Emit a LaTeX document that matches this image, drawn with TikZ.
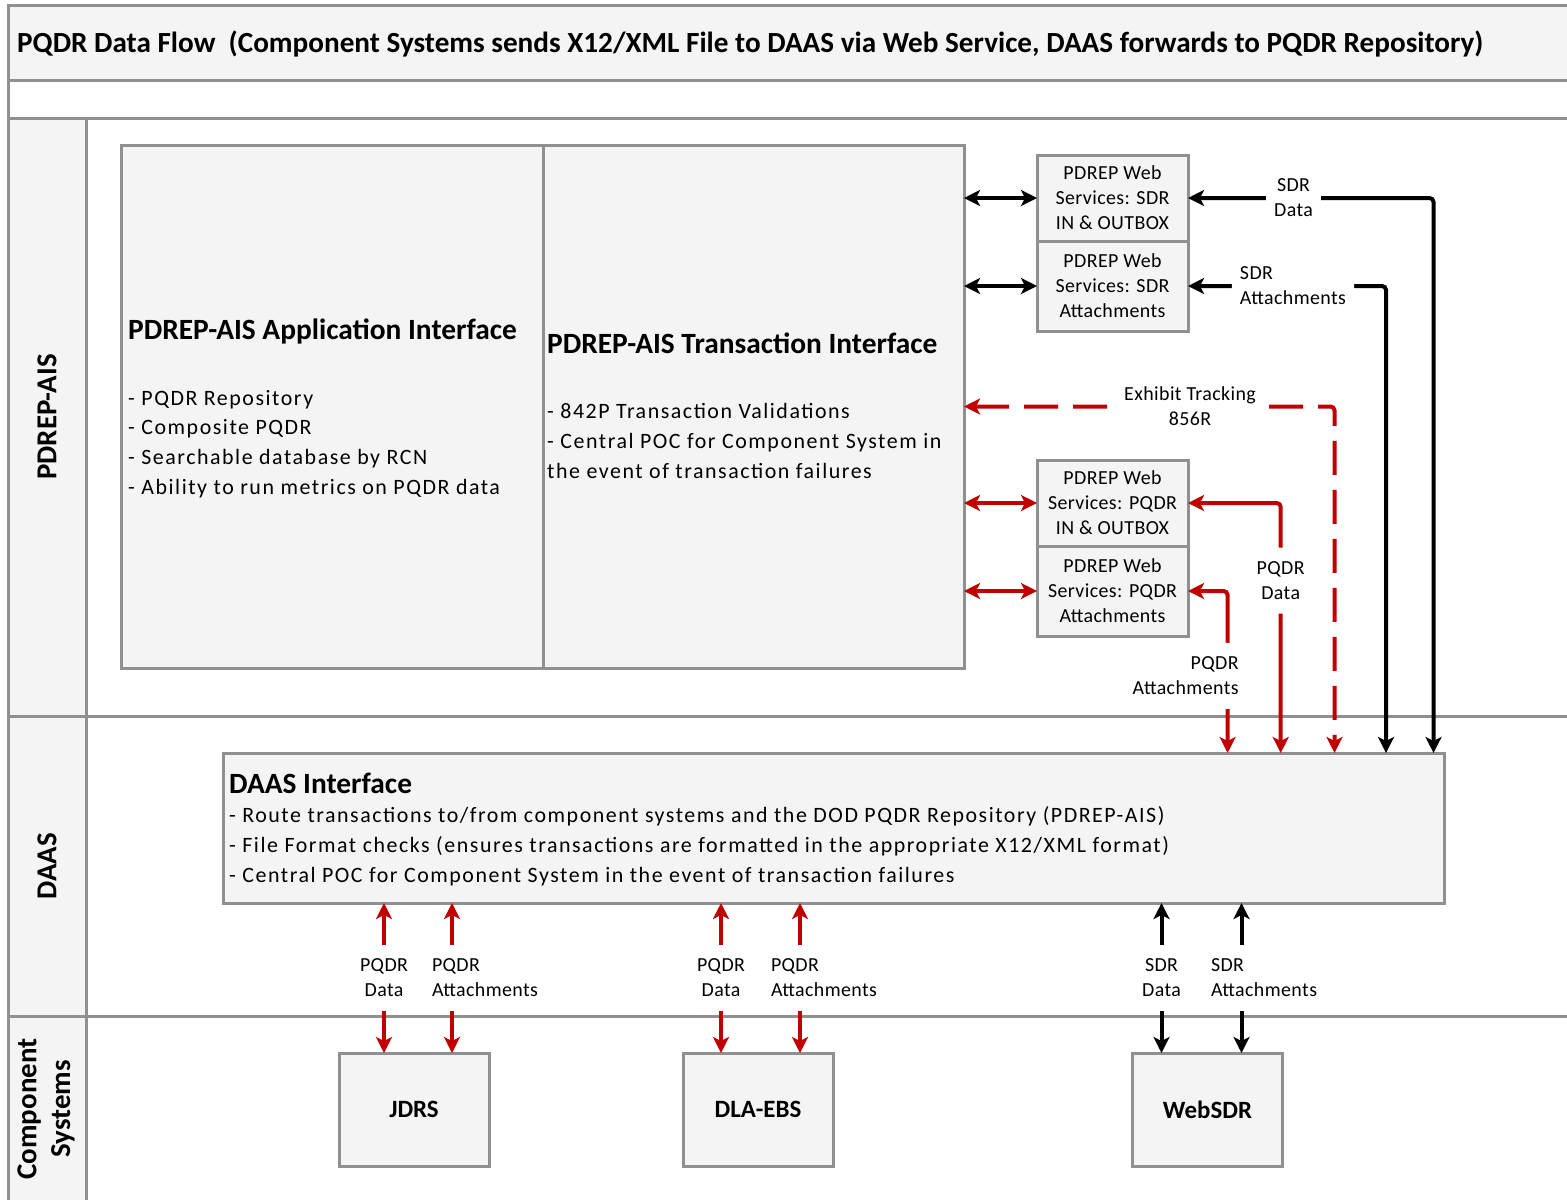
\documentclass[tikz,border=0pt]{standalone}
\usepackage{fontspec}
\setmainfont{Carlito}
\newfontfamily\bodyfont[LetterSpace=7]{Carlito}
\newfontfamily\smallfont[LetterSpace=2]{Carlito}
\usetikzlibrary{arrows.meta,positioning}
\definecolor{laneline}{HTML}{909090}
\definecolor{boxfill}{HTML}{F4F4F4}
\definecolor{pqdrred}{HTML}{C00000}
\begin{document}
\begin{tikzpicture}[x=1bp,y=-1bp,
  >={Stealth[length=16bp,width=16bp,inset=4bp]},
  box/.style={draw=laneline,line width=3bp,fill=boxfill,inner sep=0pt,outer sep=0pt},
  wsbox/.style={box,minimum width=151bp,align=center,font=\smallfont\fontsize{20}{25}\selectfont},
  sysbox/.style={box,minimum width=150bp,minimum height=113bp,font=\fontsize{25}{30}\selectfont\bfseries},
  lanelbl/.style={rotate=90,align=center,font=\fontsize{29}{34}\selectfont\bfseries},
  head/.style={anchor=base west,inner sep=0pt,font=\fontsize{29.5}{35}\selectfont\bfseries},
  body/.style={anchor=base west,inner sep=0pt,align=left,font=\bodyfont\fontsize{22}{29.7}\selectfont},
  lbl/.style={fill=white,text=black,inner xsep=8bp,inner ysep=14bp,align=center,font=\smallfont\fontsize{20}{25}\selectfont},
  blkflow/.style={line width=4bp,<->},
  redflow/.style={blkflow,pqdrred}]
\useasboundingbox (0,0) rectangle (1567,1199);
% Swimlanes
\fill[boxfill] (8,5) rectangle (1575,80);
\fill[boxfill] (8,118) rectangle (86,1205);
\draw[laneline,line width=3bp] (1575,5) -- (8,5) -- (8,1205);
\foreach \y in {80,118,716,1016} \draw[laneline,line width=3bp] (8,\y) -- (1575,\y);
\draw[laneline,line width=3bp] (86,118) -- (86,1205);
\node[anchor=base west,inner sep=0pt,font=\fontsize{29.3}{35}\selectfont\bfseries] (title) at (17,52.3)
  {PQDR Data Flow\ \ (Component Systems sends X12/XML File to DAAS via Web Service, DAAS forwards to PQDR Repository)};
\node[lanelbl] (lpdrep) at (47,417) {PDREP-AIS};
\node[lanelbl] (ldaas) at (47,866) {DAAS};
\node[lanelbl] (lsys) at (46,1109) {Component\\Systems};
% PDREP-AIS interfaces
\node[box,minimum width=421bp,minimum height=523bp] (app) at (332.5,406.5) {};
\node[box,minimum width=421bp,minimum height=523bp,right=0pt of app] (trans) {};
\node[head] (apphead) at (128,339) {PDREP-AIS Application Interface};
\node[body] (applist) at (128,494) {- PQDR Repository\\- Composite PQDR\\- Searchable database by RCN\\- Ability to run metrics on PQDR data};
\node[head] (transhead) at (547,353) {PDREP-AIS Transaction Interface};
\node[body] (translist) at (547,478) {- 842P Transaction Validations\\- Central POC for Component System in\\the event of transaction failures};
% Web services
\node[wsbox,minimum height=86bp] (sdrin) at (1112.5,198) {PDREP Web\\Services: SDR\\IN \& OUTBOX};
\node[wsbox,minimum height=90bp,below=0pt of sdrin] (sdratt) {PDREP Web\\Services: SDR\\Attachments};
\node[wsbox,minimum height=86bp] (pqin) at (1112.5,503) {PDREP Web\\Services: PQDR\\IN \& OUTBOX};
\node[wsbox,minimum height=90bp,below=0pt of pqin] (pqatt) {PDREP Web\\Services: PQDR\\Attachments};
% DAAS
\node[box,minimum width=1220bp,minimum height=150bp] (daas) at (834,828) {};
\node[head] (daashead) at (229,793) {DAAS Interface};
\node[body] (daaslist) at (229,882) {- Route transactions to/from component systems and the DOD PQDR Repository (PDREP-AIS)\\- File Format checks (ensures transactions are formatted in the appropriate X12/XML format)\\- Central POC for Component System in the event of transaction failures};
% Component systems
\node[sysbox] (jdrs) at (414,1109.5) {JDRS};
\node[sysbox] (dlaebs) at (758,1109.5) {DLA-EBS};
\node[sysbox] (websdr) at (1207.5,1109.5) {WebSDR};
% Interface to web services
\draw[blkflow] (trans.east |- sdrin.west) -- (sdrin.west);
\draw[blkflow] (trans.east |- sdratt.west) -- (sdratt.west);
\draw[redflow] (trans.east |- pqin.west) -- (pqin.west);
\draw[redflow] (trans.east |- pqatt.west) -- (pqatt.west);
% Web services to DAAS
\draw[blkflow,rounded corners=4bp] (sdrin.east) -| ([xshift=-10.5bp]daas.north east)
  node[lbl,pos=0.215] (lsdrdata) {SDR\\Data};
\draw[blkflow,rounded corners=4bp] (sdratt.east) -| ([xshift=-58bp]daas.north east)
  node[lbl,pos=0.106,anchor=west,align=left] (lsdratt) {SDR\\Attachments};
\draw[redflow,dash pattern=on 34bp off 15bp,rounded corners=4bp] (trans.east) -| ([xshift=-109.5bp]daas.north east)
  node[lbl,pos=0.305] (lexhibit) {Exhibit Tracking\\856R};
\draw[redflow,rounded corners=4bp] (pqin.east) -| ([xshift=-163.3bp]daas.north east)
  node[lbl,pos=0.655] (lpqdata) {PQDR\\Data};
\draw[redflow,rounded corners=4bp] (pqatt.east) -| ([xshift=-216.4bp]daas.north east)
  node[lbl,pos=0.762,anchor=east,xshift=21bp,align=right] (lpqatt) {PQDR\\Attachments};
% Component systems to DAAS
\draw[redflow] ([xshift=-30bp]jdrs.north) -- ([xshift=-30bp]jdrs.north |- daas.south)
  node[lbl,midway] (ljdata) {PQDR\\Data};
\draw[redflow] ([xshift=38bp]jdrs.north) -- ([xshift=38bp]jdrs.north |- daas.south)
  node[lbl,midway,anchor=west,xshift=-30bp,align=left] (ljatt) {PQDR\\Attachments};
\draw[redflow] ([xshift=-37bp]dlaebs.north) -- ([xshift=-37bp]dlaebs.north |- daas.south)
  node[lbl,midway] (lddata) {PQDR\\Data};
\draw[redflow] ([xshift=42bp]dlaebs.north) -- ([xshift=42bp]dlaebs.north |- daas.south)
  node[lbl,midway,anchor=west,xshift=-39bp,align=left] (ldatt) {PQDR\\Attachments};
\draw[blkflow] ([xshift=-46bp]websdr.north) -- ([xshift=-46bp]websdr.north |- daas.south)
  node[lbl,midway] (lwdata) {SDR\\Data};
\draw[blkflow] ([xshift=34bp]websdr.north) -- ([xshift=34bp]websdr.north |- daas.south)
  node[lbl,midway,anchor=west,xshift=-40.5bp,align=left] (lwatt) {SDR\\Attachments};
\end{tikzpicture}
\end{document}
